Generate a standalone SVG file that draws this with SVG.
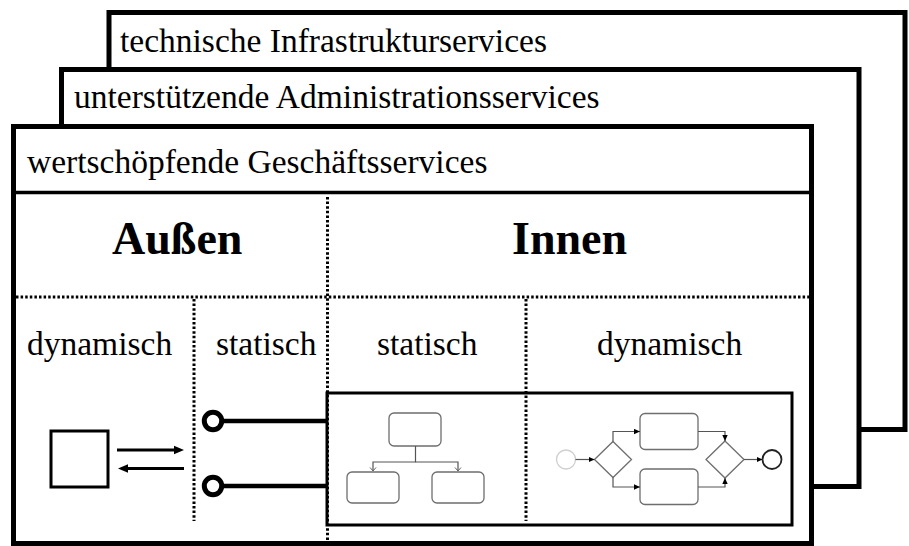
<svg xmlns="http://www.w3.org/2000/svg" width="909" height="546" viewBox="0 0 909 546">
  <style>
    .frame { fill: #fff; stroke: #000; stroke-width: 5; }
    .label { font-family: "Liberation Serif", "Times New Roman", serif; font-size: 33.5px; fill: #000; }
    .title { font-family: "Liberation Serif", "Times New Roman", serif; font-size: 46px; font-weight: bold; fill: #000; }
    .dot { stroke: #000; stroke-width: 3; stroke-dasharray: 2.5 2.1; fill: none; }
    .thick { stroke: #000; fill: none; }
    .box { fill: #fff; stroke: #6e6e6e; stroke-width: 1.3; }
    .flow { fill: none; stroke: #555; stroke-width: 1.2; }
  </style>
  <defs>
    <marker id="bigHead" markerUnits="userSpaceOnUse" markerWidth="10" markerHeight="10" viewBox="0 0 10 10" refX="3" refY="5" orient="auto">
      <path d="M0,0.8 L10,5 L0,9.2 z" fill="#000"/>
    </marker>
    <marker id="flowHead" markerUnits="userSpaceOnUse" markerWidth="6" markerHeight="6" viewBox="0 0 6 6" refX="6" refY="3" orient="auto">
      <path d="M0,0.3 L6,3 L0,5.7 z" fill="#000"/>
    </marker>
    <marker id="openHead" markerUnits="userSpaceOnUse" markerWidth="8" markerHeight="8" viewBox="0 0 8 8" refX="4" refY="4" orient="auto">
      <path d="M0.5,1 L4,4 L0.5,7" fill="none" stroke="#666" stroke-width="1"/>
    </marker>
  </defs>

  <!-- stacked service layers -->
  <g id="layer-infrastructure">
    <rect class="frame" x="109" y="12.5" width="796" height="417"/>
    <text class="label" x="120" y="52">technische Infrastrukturservices</text>
  </g>
  <g id="layer-administration">
    <rect class="frame" x="61.5" y="69.5" width="797.5" height="417"/>
    <text class="label" x="74" y="108">unterstützende Administrationsservices</text>
  </g>
  <g id="layer-business">
    <rect class="frame" x="13.5" y="126.5" width="798" height="417"/>
    <text class="label" x="27" y="173">wertschöpfende Geschäftsservices</text>
    <line x1="13.5" y1="192.5" x2="811.5" y2="192.5" stroke="#000" stroke-width="3.5"/>
    <text class="title" x="112" y="254">Außen</text>
    <text class="title" x="512" y="254">Innen</text>
    <line class="dot" x1="16" y1="297" x2="809" y2="297"/>
    <line class="dot" x1="327.5" y1="197" x2="327.5" y2="541"/>
    <line class="dot" x1="194" y1="299" x2="194" y2="521"/>
    <line class="dot" x1="526" y1="299" x2="526" y2="521"/>
    <text class="label" x="27" y="355">dynamisch</text>
    <text class="label" x="216" y="355">statisch</text>
    <text class="label" x="377" y="355">statisch</text>
    <text class="label" x="597" y="355">dynamisch</text>
  </g>

  <!-- external actor -->
  <g id="actor">
    <rect x="51" y="431" width="57" height="56" fill="#fff" stroke="#000" stroke-width="3"/>
  </g>

  <!-- inner component -->
  <g id="component">
    <rect x="327" y="393" width="465" height="132" fill="none" stroke="#000" stroke-width="3"/>
  </g>

  <!-- provided interfaces -->
  <g id="interface-1">
    <circle cx="213" cy="421" r="8.7" fill="#fff" stroke="#000" stroke-width="5"/>
  </g>
  <g id="interface-2">
    <circle cx="213" cy="486" r="8.7" fill="#fff" stroke="#000" stroke-width="5"/>
  </g>

  <!-- static structure -->
  <g id="org-top"><rect class="box" x="389" y="413" width="52" height="33" rx="5"/></g>
  <g id="org-left"><rect class="box" x="347" y="472" width="52" height="31" rx="5"/></g>
  <g id="org-right"><rect class="box" x="432" y="472" width="52" height="31" rx="5"/></g>

  <!-- dynamic process -->
  <g id="start-event"><circle cx="566" cy="459.5" r="9.5" fill="#fff" stroke="#cfcfcf" stroke-width="1.3"/></g>
  <g id="split-gateway"><path class="box" d="M613 441.5 L631.5 459.5 L613 477.5 L594.5 459.5 z" stroke="#555"/></g>
  <g id="task-1"><rect class="box" x="640" y="413.5" width="58" height="36" rx="5"/></g>
  <g id="task-2"><rect class="box" x="640" y="469" width="58" height="35.5" rx="5"/></g>
  <g id="join-gateway"><path class="box" d="M725 441 L744 459.5 L725 478 L706 459.5 z" stroke="#555"/></g>
  <g id="end-event"><circle cx="772" cy="459.5" r="9.5" fill="#fff" stroke="#222" stroke-width="1.8"/></g>

  <g id="connectors">
    <line class="thick" x1="117" y1="450" x2="177" y2="450" stroke-width="3" marker-end="url(#bigHead)"/>
    <line class="thick" x1="184" y1="468.5" x2="125" y2="468.5" stroke-width="3" marker-end="url(#bigHead)"/>
    <line class="thick" x1="221.5" y1="421" x2="327" y2="421" stroke-width="4.5"/>
    <line class="thick" x1="221.5" y1="486" x2="327" y2="486" stroke-width="4.5"/>

    <path class="flow" stroke="#666" d="M415.5 446 V462 H373 V471" marker-end="url(#openHead)"/>
    <path class="flow" stroke="#666" d="M415.5 462 H458 V471" marker-end="url(#openHead)"/>

    <path class="flow" d="M575.5 459.5 H594.5" marker-end="url(#flowHead)"/>
    <path class="flow" d="M613 441.5 V431.5 H640" marker-end="url(#flowHead)"/>
    <path class="flow" d="M613 477.5 V487 H640" marker-end="url(#flowHead)"/>
    <path class="flow" d="M698 431.5 H725 V441" marker-end="url(#flowHead)"/>
    <path class="flow" d="M698 487 H725 V478" marker-end="url(#flowHead)"/>
    <path class="flow" d="M744 459.5 H762.5" marker-end="url(#flowHead)"/>
  </g>
</svg>
